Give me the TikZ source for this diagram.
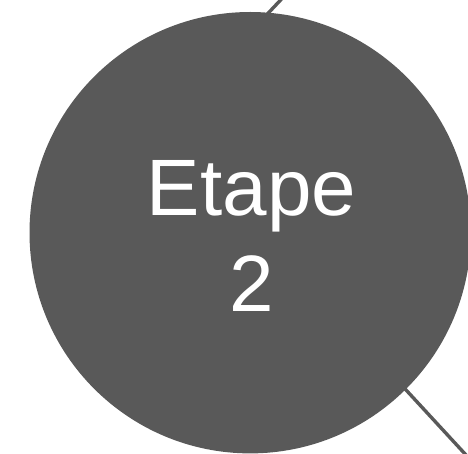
\documentclass[tikz,border=0pt]{standalone}
\usepackage{fontspec}
\setmainfont{Liberation Sans}
\definecolor{stepgray}{HTML}{595959}
\begin{document}
\begin{tikzpicture}[x=1pt,y=-1pt,
  link/.style={draw=stepgray,line width=3.4pt},
  stepcircle/.style={circle,fill=stepgray,draw=none,minimum size=441.4pt,inner sep=0pt},
  steplabel/.style={text=white,font=\fontsize{80}{96}\selectfont,align=center,inner sep=0pt}]
\useasboundingbox (0,0) rectangle (468,454);
\clip (0,0) rectangle (468,454);
\coordinate (ta) at (258,24);
\coordinate (tb) at (290,-10);
\coordinate (ba) at (395,378);
\coordinate (bb) at (478,468);
\draw[link] (ta) -- (tb);
\draw[link] (ba) -- (bb);
\node[stepcircle] (c) at (250.2,232.7) {};
\node[steplabel] (lbl) at (251.5,235.5) {Etape\\2};
\end{tikzpicture}
\end{document}
